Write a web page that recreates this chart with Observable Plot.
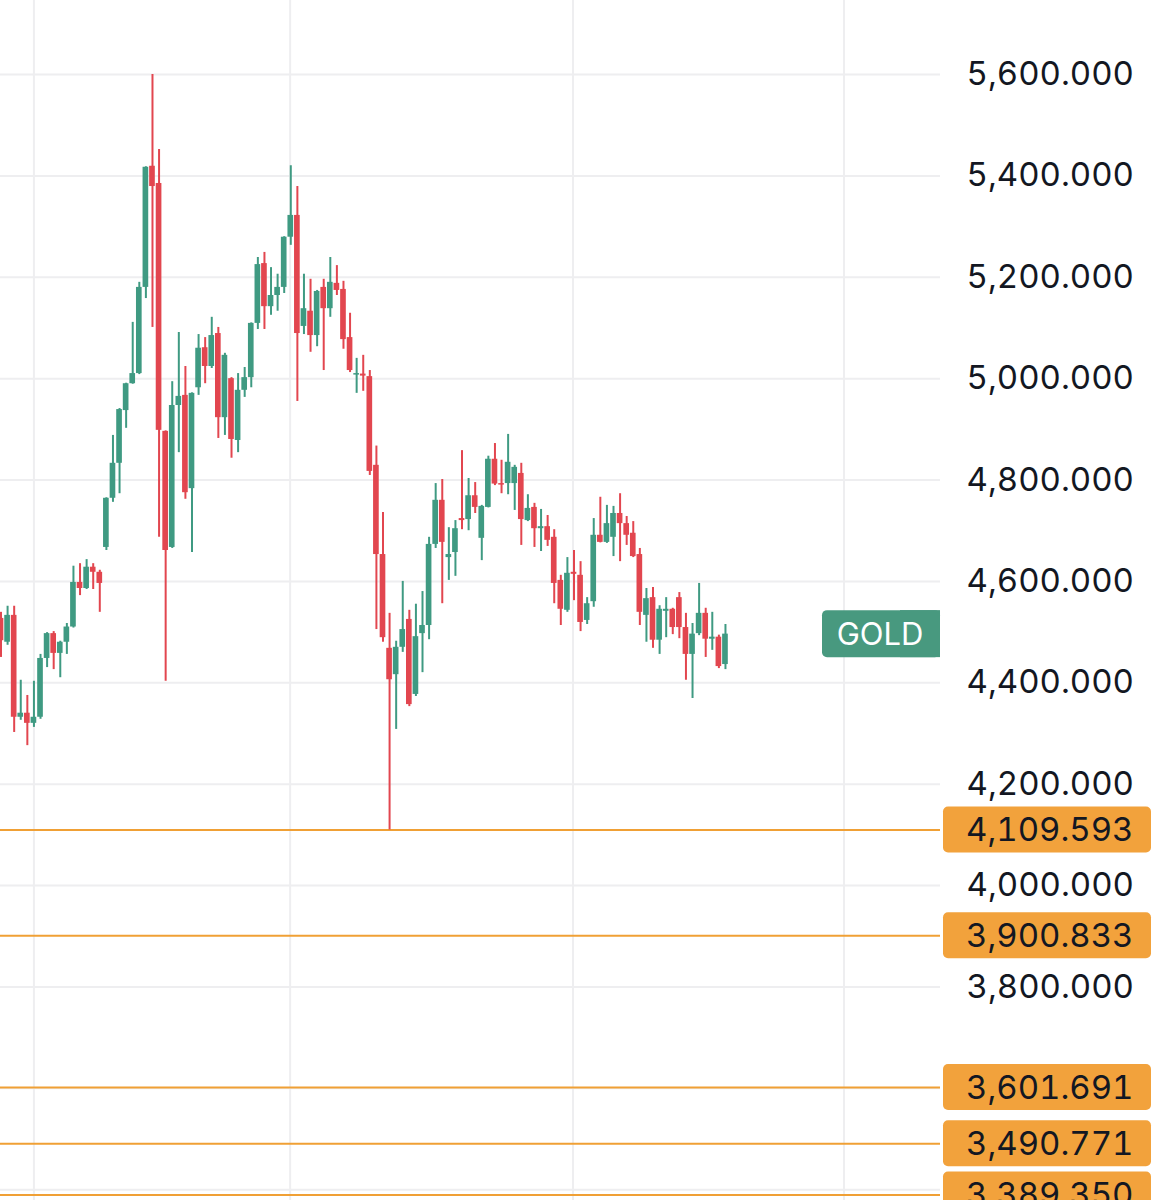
<!DOCTYPE html>
<html>
<head>
<meta charset="utf-8">
<script src="https://cdn.jsdelivr.net/npm/d3@7"></script>
<script src="https://cdn.jsdelivr.net/npm/@observablehq/plot@0.6"></script>
<style>
  html, body { margin: 0; padding: 0; background: #ffffff; }
  #chart svg { display: block; }
  #chart svg text { font-variant-numeric: tabular-nums; font-feature-settings: "tnum" 1; }
</style>
</head>
<body>
<div id="chart"></div>
<script>
// ---- data ----
const opens = [
  4527,4480,4533,4332,4340,4320,4332,4448,4497,4458,
  4480,4510,4598,4586,4628,4618,4667,4764,4833,4937,
  4990,5010,5180,5419,5385,4896,4667,4947,4967,4783,
  4982,5061,5024,5089,4923,5000,4878,4977,5002,5109,
  5227,5142,5164,5180,5279,5322,5103,5133,5085,5180,
  5138,5188,5176,5081,5007,5009,5004,4829,4653,4468,
  4416,4470,4525,4377,4497,4513,4673,4760,4647,4657,
  4724,4722,4769,4685,4746,4841,4793,4793,4793,4813,
  4720,4746,4704,4708,4687,4602,4543,4618,4612,4523,
  4560,4691,4677,4687,4734,4714,4695,4653,4533,4568,
  4484,4541,4545,4568,4509,4456,4497,4537,4486,4490,4436
];
const highs = [
  4539,4551,4551,4405,4375,4403,4456,4499,4501,4482,
  4517,4630,4635,4643,4635,4622,4765,4888,4941,4991,
  5111,5190,5418,5600,5452,4897,4994,5091,5024,4972,
  5087,5081,5121,5101,5050,5002,5010,5022,5110,5239,
  5249,5219,5206,5280,5420,5379,5206,5196,5174,5196,
  5239,5223,5192,5129,5040,5046,5016,4867,4736,4537,
  4482,4600,4543,4555,4580,4687,4793,4801,4706,4720,
  4858,4803,4795,4750,4847,4872,4839,4890,4829,4833,
  4771,4754,4742,4730,4702,4612,4647,4661,4639,4568,
  4724,4766,4750,4748,4773,4728,4718,4665,4586,4588,
  4552,4568,4547,4578,4537,4517,4596,4547,4539,4494,4515
];
const lows = [
  4450,4474,4302,4326,4276,4312,4328,4430,4426,4410,
  4456,4508,4572,4584,4584,4539,4661,4756,4773,4902,
  4989,5008,5158,5101,4687,4403,4665,4854,4762,4657,
  4967,4990,5020,4882,4888,4843,4854,4963,4982,5097,
  5097,5125,5133,5168,5263,4955,5087,5052,5063,5016,
  5121,5164,5058,5012,4971,4975,4809,4505,4480,4109.593,
  4308,4460,4353,4373,4420,4485,4665,4556,4602,4610,
  4702,4700,4734,4641,4745,4789,4773,4771,4740,4671,
  4718,4667,4659,4669,4556,4513,4539,4562,4501,4515,
  4549,4676,4675,4649,4639,4671,4647,4513,4480,4468,
  4456,4489,4495,4487,4405,4369,4493,4450,4464,4428,4426
];
const closes = [
  4483,4533,4332,4340,4320,4332,4448,4497,4458,4480,
  4510,4598,4586,4628,4618,4596,4764,4833,4939,4990,
  5010,5180,5417,5379,4898,4661,4947,4965,4775,4971,
  5060,5024,5085,4923,5046,4880,4977,5002,5109,5225,
  5142,5164,5180,5279,5322,5089,5138,5085,5172,5138,
  5190,5174,5077,5016,5010,5005,4817,4653,4489,4406,
  4470,4505,4357,4491,4513,4673,4760,4677,4653,4704,
  4720,4769,4746,4748,4841,4792,4790,4835,4825,4722,
  4744,4704,4708,4681,4596,4545,4616,4614,4519,4556,
  4691,4677,4714,4734,4714,4691,4649,4539,4566,4484,
  4545,4545,4509,4509,4456,4496,4537,4486,4490,4432,4496
];
const yTicks = [3400, 3600, 3800, 4000, 4200, 4400, 4600, 4800, 5000, 5200, 5400, 5600];
const levels = [4109.593, 3900.833, 3601.691, 3490.771, 3389.350];
const timeGrid = [5, 43.9, 86.85, 128];   // candle-index positions of the vertical grid lines
const symbolName = "GOLD";

// ---- styles ----
const GREEN = "#3f9a82", RED = "#e2464f", ORANGE = "#f0a035", ORANGE_BOX = "#f2a23c";
const GRID = "#eeeef0", INK = "#131722", TAG_GREEN = "#48997f";
const FONT = "Inter, 'Noto Sans', sans-serif";

const candles = opens.map((o, i) => ({i, o, h: highs[i], l: lows[i], c: closes[i], up: closes[i] >= opens[i]}));
const fmt = d3.format(",.3f");
// axis labels that would sit under a level tag are hidden (as on the reference)
const visibleTicks = yTicks.filter(t => !levels.some(l => Math.abs(l - t) < 45));

const chart = Plot.plot({
  width: 1165,
  height: 1200,
  marginLeft: 0,
  marginRight: 225,
  marginTop: 0,
  marginBottom: 0,
  x: {type: "linear", domain: [-0.076, 142.65], axis: null},
  y: {domain: [3378.7, 5745.98], axis: null},
  color: {type: "identity"},
  style: {fontFamily: FONT, background: "#ffffff", overflow: "hidden"},
  marks: [
    Plot.ruleY(yTicks, {stroke: GRID, strokeWidth: 2}),
    Plot.ruleX(timeGrid, {stroke: GRID, strokeWidth: 2}),
    Plot.ruleY(levels, {stroke: ORANGE, strokeWidth: 2}),
    Plot.ruleX(candles, {x: "i", y1: "l", y2: "h", stroke: d => d.up ? GREEN : RED, strokeWidth: 2}),
    Plot.rect(candles, {
      x1: d => d.i - 0.43,
      x2: d => d.i + 0.43,
      y1: d => Math.min(d.o, d.c) - (Math.abs(d.o - d.c) < 2.5 ? 1.3 : 0),
      y2: d => Math.max(d.o, d.c) + (Math.abs(d.o - d.c) < 2.5 ? 1.3 : 0),
      fill: d => d.up ? GREEN : RED
    }),
    Plot.axisY(visibleTicks, {
      anchor: "right", tickSize: 0, tickPadding: 26, label: null,
      tickFormat: fmt, fontSize: 33, fill: INK, fontFamily: FONT, textAnchor: "start"
    })
  ]
});

document.getElementById("chart").appendChild(chart);

// ---- price-level tags and the symbol tag, positioned with Plot's own y scale ----
const ys = chart.scale("y");
const svg = d3.select(chart);
const tags = svg.append("g").attr("text-anchor", "start");
levels.forEach(v => {
  const y = ys.apply(v);
  tags.append("rect").attr("x", 943).attr("y", y - 23).attr("width", 208).attr("height", 46)
    .attr("rx", 5).attr("fill", ORANGE_BOX);
  tags.append("text").attr("x", 966).attr("y", y).attr("dy", "0.35em").attr("text-anchor", "start")
    .attr("font-family", FONT).attr("font-size", 33).attr("fill", INK).text(fmt(v));
});
const yLast = ys.apply(closes[closes.length - 1]);
tags.append("rect").attr("x", 822).attr("y", yLast - 23.5).attr("width", 118).attr("height", 47)
  .attr("rx", 5).attr("fill", TAG_GREEN);
tags.append("rect").attr("x", 900).attr("y", yLast - 23.5).attr("width", 40).attr("height", 47)
  .attr("fill", TAG_GREEN);
tags.append("text").attr("x", 880).attr("y", yLast).attr("dy", "0.36em").attr("text-anchor", "middle")
  .attr("font-family", FONT).attr("font-size", 31).attr("fill", "#ffffff").text(symbolName);
</script>
</body>
</html>
